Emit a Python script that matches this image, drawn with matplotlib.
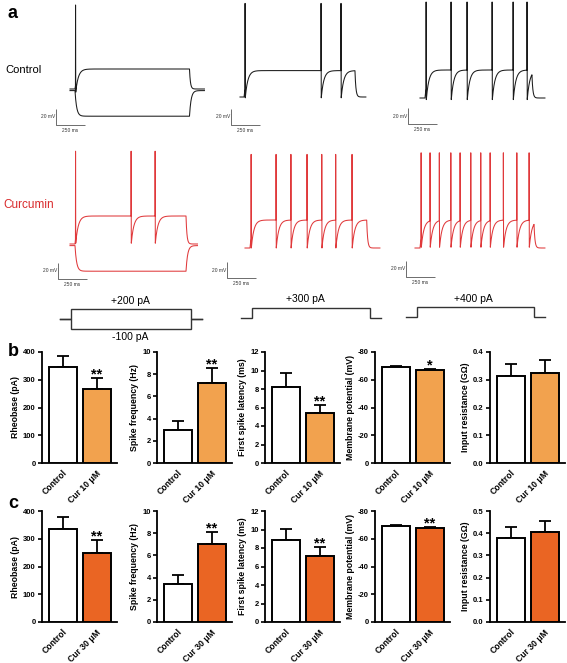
import numpy as np
import matplotlib
matplotlib.use("Agg")
import matplotlib.pyplot as plt

plt.rcParams['font.family'] = ['Liberation Sans', 'DejaVu Sans']
plt.rcParams['axes.unicode_minus'] = False

W, H = 567, 663
fig = plt.figure(figsize=(W / 100, H / 100), dpi=100)


def px_axes(L, T, R, B):
    return fig.add_axes([L / W, 1 - B / H, (R - L) / W, (B - T) / H])


# ---------------------------------------------------------------- data
# Voltage traces (times in ms, voltages in mV)
REST = -70
# Control, +200 pA / -100 pA
C1_TIMES = [0, 43, 1030, 1160]          # start, step on, step off, end
C1_LEVELS = [35, -45, -74]             # peak, plateau, trough
C1_SPIKES = [47]
C1_HYP = [-72, -104]                    # rest, hyperpolarised level
# Control, +300 pA
C2_TIMES = [0, 35, 991, 1086]
C2_LEVELS = [47, -37, -71]
C2_SPIKES = [43, 698, 870]
# Control, +400 pA
C3_TIMES = [0, 43, 965, 1078]
C3_LEVELS = [50, -35, -72]
C3_SPIKES = [52, 267, 405, 621, 802, 922]
# Curcumin, +200 pA / -100 pA
R1_TIMES = [0, 43, 1000, 1100]
R1_LEVELS = [46, -35, -69]
R1_SPIKES = [47, 526, 733]
R1_HYP = [-72, -104]
# Curcumin, +300 pA
R2_TIMES = [0, 43, 1049, 1164]
R2_LEVELS = [47, -35, -70]
R2_SPIKES = [52, 267, 395, 534, 661, 781, 922]
# Curcumin, +400 pA
R3_TIMES = [0, 43, 1026, 1121]
R3_LEVELS = [49, -35, -69]
R3_SPIKES = [52, 129, 209, 308, 388, 480, 566, 647, 761, 877, 983]

# Current protocols (pA)
STEPS_1 = [200, -100]
STEPS_2 = [300]
STEPS_3 = [400]

# Bar charts
METRICS = ["Rheobase (pA)", "Spike frequency (Hz)", "First spike latency (ms)",
           "Membrane potential (mV)", "Input resistance (G\u03a9)"]
GROUPS_B = ["Control", "Cur 10 \u03bcM"]
GROUPS_C = ["Control", "Cur 30 \u03bcM"]
B_CTRL = [345, 3.0, 8.2, -69.5, 0.315]
B_CTRL_ERR = [42, 0.8, 1.5, 0.6, 0.04]
B_CUR = [268, 7.2, 5.4, -67.0, 0.325]
B_CUR_ERR = [37, 1.4, 0.85, 0.6, 0.045]
B_SIG = ["**", "**", "**", "*", ""]
C_CTRL = [335, 3.4, 8.9, -69.5, 0.38]
C_CTRL_ERR = [42, 0.8, 1.2, 0.5, 0.05]
C_CUR = [249, 7.0, 7.1, -67.5, 0.405]
C_CUR_ERR = [45, 1.1, 1.0, 0.8, 0.05]
C_SIG = ["**", "**", "**", "**", ""]
B_TICKS = [[0, 100, 200, 300, 400], [0, 2, 4, 6, 8, 10], [0, 2, 4, 6, 8, 10, 12],
           [0, -20, -40, -60, -80], [0.0, 0.1, 0.2, 0.3, 0.4]]
C_TICKS = [[0, 100, 200, 300, 400], [0, 2, 4, 6, 8, 10], [0, 2, 4, 6, 8, 10, 12],
           [0, -20, -40, -60, -80], [0.0, 0.1, 0.2, 0.3, 0.4, 0.5]]

COL_B = '#F2A24E'
COL_C = '#EA6523'
RED = '#E0393B'

# ---------------------------------------------------------------- traces
MSPX = 250 / 29   # ms per pixel
MVPX = 20 / 16    # mV per pixel


def build(times, levels, spikes, rest=REST, tau=22.0, tau_off=8.0):
    t0, on, off, end = times
    peak, plateau, trough = levels
    T = [t0, on]
    V = [rest, rest]
    cur_t, cur_v = on, rest
    for s in spikes:
        if s > cur_t:
            tt = np.arange(cur_t, s, 1.0)
            vv = plateau + (cur_v - plateau) * np.exp(-(tt - cur_t) / tau)
            T += list(tt); V += list(vv)
            vs = plateau + (cur_v - plateau) * np.exp(-(s - cur_t) / tau)
        else:
            vs = cur_v
        T += [s, s + 0.8, s + 2.5]
        V += [vs, peak, trough]
        cur_t, cur_v = s + 2.5, trough
    tt = np.arange(cur_t, off, 1.0)
    vv = plateau + (cur_v - plateau) * np.exp(-(tt - cur_t) / tau)
    T += list(tt); V += list(vv)
    v_off = V[-1]
    tt = np.arange(off, end, 1.0)
    vv = rest + (v_off - rest) * np.exp(-(tt - off) / tau_off)
    T += list(tt); V += list(vv)
    return np.array(T), np.array(V)


def build_hyp(times, hyp, tau=14.0):
    t0, on, off, end = times
    rest, low = hyp
    t = np.arange(t0, end, 1.0)
    v = np.full_like(t, rest, dtype=float)
    m = (t >= on) & (t < off)
    v[m] = low + (rest - low) * np.exp(-(t[m] - on) / tau)
    v_off = low + (rest - low) * np.exp(-(off - on) / tau)
    m2 = t >= off
    v[m2] = rest + (v_off - rest) * np.exp(-(t[m2] - off) / tau)
    return t, v


def trace_axes(box, x0px, y0px):
    L, T, R, B = box
    ax = px_axes(L, T, R, B)
    ax.set_xlim((L - x0px) * MSPX, (R - x0px) * MSPX)
    ax.set_ylim(REST - (B - y0px) * MVPX, REST + (y0px - T) * MVPX)
    ax.axis('off')
    return ax


def scale_bar(ax, x0px, y0px, cx, cy):
    t = (cx - x0px) * MSPX
    v = REST - (cy - y0px) * MVPX
    ax.plot([t, t, t + 250], [v + 20, v, v], color='#555555', lw=0.6,
            solid_capstyle='butt', clip_on=False)
    ax.text(t - 6, v + 10, "20 mV", fontsize=3.5, ha='right', va='center',
            color='#333333')
    ax.text(t + 125, v - 4, "250 ms", fontsize=3.5, ha='center', va='top',
            color='#333333')


specs = [
    # box, x0px, y0px, times, levels, spikes, hyp, color, scalebar corner
    ((30, 0, 215, 138), 70, 89, C1_TIMES, C1_LEVELS, C1_SPIKES, C1_HYP, '#1a1a1a', (56, 125)),
    ((215, 0, 390, 138), 240, 97, C2_TIMES, C2_LEVELS, C2_SPIKES, None, '#1a1a1a', (231, 125)),
    ((390, 0, 567, 138), 420, 98, C3_TIMES, C3_LEVELS, C3_SPIKES, None, '#1a1a1a', (408, 124)),
    ((30, 140, 215, 292), 70, 244, R1_TIMES, R1_LEVELS, R1_SPIKES, R1_HYP, RED, (58, 279)),
    ((215, 140, 390, 292), 245, 248, R2_TIMES, R2_LEVELS, R2_SPIKES, None, RED, (227, 278)),
    ((390, 140, 567, 292), 415, 248, R3_TIMES, R3_LEVELS, R3_SPIKES, None, RED, (406, 277)),
]
for box, x0, y0, times, levels, spikes, hyp, col, sb in specs:
    ax = trace_axes(box, x0, y0)
    t, v = build(times, levels, spikes)
    ax.plot(t, v, color=col, lw=0.75)
    if hyp is not None:
        t2, v2 = build_hyp(times, hyp)
        ax.plot(t2, v2, color=col, lw=0.75)
    scale_bar(ax, x0, y0, *sb)

fig.text(5 / W, 1 - 70 / H, "Control", fontsize=8, ha='left', va='center')
fig.text(3 / W, 1 - 205 / H, "Curcumin", fontsize=8.5, ha='left', va='center',
         color='#D92A2C')

# ---------------------------------------------------------------- protocols
LEAD = 90
STEP = 1000


def protocol(x0px, kpx, y0px, steps, labelpos):
    ax = px_axes(x0px - 150 * kpx, y0px - 20, x0px + 1150 * kpx, y0px + 20)
    ax.set_xlim(-150, 1150)
    ax.set_ylim(-2, 2)
    ax.axis('off')
    for I in steps:
        lvl = np.sign(I)
        ax.plot([-LEAD, 0, 0, STEP, STEP, STEP + LEAD], [0, 0, lvl, lvl, 0, 0],
                color='#333333', lw=1.0, solid_joinstyle='miter')
        lab = ("+%d pA" % I) if I > 0 else ("%d pA" % I)
        if I > 0:
            ax.text(labelpos, lvl + 0.35, lab, fontsize=7.5, ha='center', va='bottom')
        else:
            ax.text(labelpos, lvl - 0.3, lab, fontsize=7.5, ha='center', va='top')


protocol(71, 0.12, 319, STEPS_1, 492)
protocol(252, 0.118, 318, STEPS_2, 449)
protocol(417, 0.117, 317, STEPS_3, 479)

# ---------------------------------------------------------------- bar charts
COLS_L = [42, 157, 265, 375, 490]


def bar_panel(L, T, B, ctrl, cerr, cur, uerr, ticks, ylabel, color, sig, groups):
    ax = px_axes(L, T, L + 75, B)
    vals = [ctrl, cur]
    errs = [cerr, uerr]
    ax.bar([0, 1], vals, width=0.82, color=['white', color], edgecolor='black',
           linewidth=1.4, zorder=3)
    for x, v, e in zip([0, 1], vals, errs):
        yerr = [[e], [0]] if v < 0 else [[0], [e]]
        ax.errorbar([x], [v], yerr=yerr, fmt='none', ecolor='black', elinewidth=1.3,
                    capsize=4.2, capthick=1.3, zorder=2, clip_on=False)
    top = ticks[-1]
    ax.set_ylim(0, top)
    ax.set_xlim(-0.62, 1.6)
    ax.set_yticks(ticks)
    if isinstance(ticks[1], float):
        ax.set_yticklabels(["%.1f" % v for v in ticks])
    else:
        ax.set_yticklabels(["%d" % v for v in ticks])
    ax.spines['top'].set_visible(False)
    ax.spines['right'].set_visible(False)
    ax.spines['left'].set_linewidth(1.3)
    ax.spines['bottom'].set_linewidth(1.3)
    ax.spines['left'].set_bounds(0, top)
    ax.tick_params(axis='y', length=3, width=1.2, pad=1.5, labelsize=5.5)
    for lab in ax.get_yticklabels():
        lab.set_fontweight('bold')
    ax.set_xticks([0, 1])
    ax.set_xticklabels(groups, rotation=45, ha='right', rotation_mode='anchor',
                       fontsize=6.2, fontweight='bold')
    ax.tick_params(axis='x', length=0, pad=4)
    ax.set_ylabel(ylabel, fontsize=6.3, fontweight='bold', labelpad=2)
    if sig:
        e = uerr if cur > 0 else -uerr
        ax.annotate(sig, (1, cur + e), xytext=(0, -2.5), textcoords='offset points',
                    ha='center', va='bottom', fontsize=10.5, fontweight='bold')
    return ax


for i in range(5):
    bar_panel(COLS_L[i], 352, 463, B_CTRL[i], B_CTRL_ERR[i], B_CUR[i], B_CUR_ERR[i],
              B_TICKS[i], METRICS[i], COL_B, B_SIG[i], GROUPS_B)
    bar_panel(COLS_L[i], 511, 622, C_CTRL[i], C_CTRL_ERR[i], C_CUR[i], C_CUR_ERR[i],
              C_TICKS[i], METRICS[i], COL_C, C_SIG[i], GROUPS_C)

fig.text(8 / W, 1 - 14 / H, "a", fontsize=13, fontweight='bold', ha='left', va='center')
fig.text(8 / W, 1 - 352 / H, "b", fontsize=13, fontweight='bold', ha='left', va='center')
fig.text(8 / W, 1 - 503 / H, "c", fontsize=13, fontweight='bold', ha='left', va='center')

fig.savefig("out.png", dpi=100)
